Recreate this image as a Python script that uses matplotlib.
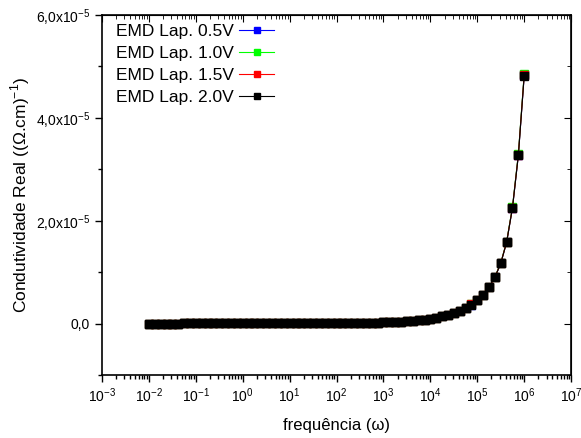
import numpy as np
import matplotlib.pyplot as plt
from matplotlib.ticker import LogLocator, NullFormatter, MultipleLocator, FixedLocator

plt.rcParams['font.family'] = ['Liberation Sans', 'DejaVu Sans']
plt.rcParams['mathtext.fontset'] = 'custom'
plt.rcParams['mathtext.rm'] = 'Liberation Sans'

# frequência (ω), 8 pontos por década de 1e-2 a 1e6
freq = [0.01, 0.01334, 0.01778, 0.02371, 0.03162, 0.04217, 0.05623, 0.07499,
        0.1, 0.1334, 0.1778, 0.2371, 0.3162, 0.4217, 0.5623, 0.7499,
        1.0, 1.334, 1.778, 2.371, 3.162, 4.217, 5.623, 7.499,
        10.0, 13.34, 17.78, 23.71, 31.62, 42.17, 56.23, 74.99,
        100.0, 133.4, 177.8, 237.1, 316.2, 421.7, 562.3, 749.9,
        1000.0, 1334.0, 1778.0, 2371.0, 3162.0, 4217.0, 5623.0, 7499.0,
        1.0e4, 1.334e4, 1.778e4, 2.371e4, 3.162e4, 4.217e4, 5.623e4, 7.499e4,
        1.0e5, 1.334e5, 1.778e5, 2.371e5, 3.162e5, 4.217e5, 5.623e5, 7.499e5,
        1.0e6]

# condutividade real em unidades de 1e-5 (Ω.cm)^-1
cond_20 = [0.0010, 0.0011, 0.0012, 0.0013, 0.0014, 0.0015, 0.0016, 0.0017,
           0.0018, 0.0019, 0.0020, 0.0021, 0.0022, 0.0023, 0.0024, 0.0025,
           0.0026, 0.0027, 0.0028, 0.0029, 0.0030, 0.0031, 0.0032, 0.0033,
           0.0034, 0.0036, 0.0038, 0.0040, 0.0043, 0.0046, 0.0050, 0.0055,
           0.006, 0.007, 0.008, 0.009, 0.011, 0.013, 0.015, 0.018,
           0.022, 0.026, 0.031, 0.037, 0.044, 0.053, 0.064, 0.077,
           0.095, 0.115, 0.14, 0.165, 0.20, 0.245, 0.30, 0.37,
           0.46, 0.56, 0.71, 0.90, 1.17, 1.58, 2.25, 3.27,
           4.82]
cond_15 = [v * 1.003 for v in cond_20]
cond_10 = [v * 1.008 for v in cond_20]
cond_05 = [v * 1.002 for v in cond_20]

series = [
    ('EMD Lap. 0.5V', cond_05, '#0000ff'),
    ('EMD Lap. 1.0V', cond_10, '#00ff00'),
    ('EMD Lap. 1.5V', cond_15, '#ff0000'),
    ('EMD Lap. 2.0V', cond_20, '#000000'),
]

fig = plt.figure(figsize=(5.81, 4.38), dpi=100)
ax = fig.add_axes([0.1756, 0.1438, 0.8074, 0.822])

for label, vals, color in series:
    y = np.array(vals) * 1e-5
    ax.plot(freq, y, color=color, lw=0.8, marker='s', markersize=6.3,
            markerfacecolor=color, markeredgecolor=color, label=label)

ax.set_xscale('log')
ax.set_xlim(1e-3, 1e7)
ax.set_ylim(-1e-5, 6e-5)

ax.xaxis.set_major_locator(LogLocator(base=10, numticks=20))
ax.xaxis.set_minor_locator(LogLocator(base=10, subs=np.arange(2, 10), numticks=20))
ax.xaxis.set_minor_formatter(NullFormatter())

yt = [0, 2e-5, 4e-5, 6e-5]
ax.yaxis.set_major_locator(FixedLocator(yt))
ax.set_yticklabels(['0,0', r'2,0x10$^{-5}$', r'4,0x10$^{-5}$', r'6,0x10$^{-5}$'])
ax.yaxis.set_minor_locator(MultipleLocator(1e-5))

ax.tick_params(which='major', direction='out', length=5, width=1, labelsize=10,
               top=False, right=False)
ax.tick_params(which='minor', direction='out', length=3, width=1,
               top=False, right=False)

# eixos espelhados (ticks para dentro)
ax2 = ax.secondary_xaxis('top')
ax2.xaxis.set_major_locator(LogLocator(base=10, numticks=20))
ax2.xaxis.set_minor_locator(LogLocator(base=10, subs=np.arange(2, 10), numticks=20))
ax2.tick_params(which='both', direction='in', labeltop=False)
ax2.tick_params(which='major', length=5)
ax2.tick_params(which='minor', length=3)
ax2.xaxis.set_major_formatter(NullFormatter())
ax2.xaxis.set_minor_formatter(NullFormatter())
ax3 = ax.secondary_yaxis('right')
ax3.yaxis.set_major_locator(FixedLocator(yt))
ax3.yaxis.set_minor_locator(MultipleLocator(1e-5))
ax3.tick_params(which='both', direction='in', labelright=False)
ax3.tick_params(which='major', length=5)
ax3.tick_params(which='minor', length=3)

for sp in ax.spines.values():
    sp.set_linewidth(1.2)

ax.set_xlabel('frequência (ω)', fontsize=12, labelpad=9)
ax.set_ylabel('Condutividade Real ((Ω.cm)$^{-1}$)', fontsize=12.5, labelpad=3)

ax.legend(loc='upper left', frameon=False, markerfirst=False, fontsize=12.5,
          handlelength=2.0, handletextpad=0.3, labelspacing=0.4,
          borderaxespad=0.0, bbox_to_anchor=(0.015, 0.995), markerscale=0.75)

fig.savefig('out.png', dpi=100)
